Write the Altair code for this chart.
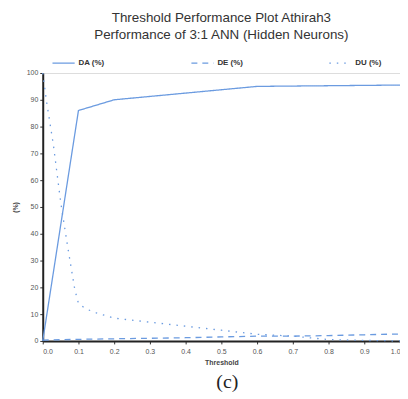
import altair as alt
import pandas as pd

# ---- data ----
da_x = [0.0, 0.1, 0.2, 0.6, 1.0]
da_y = [0.0, 86.0, 90.0, 95.0, 95.5]

de_x = [0.0, 0.1, 0.2, 0.3, 0.4, 0.5, 0.6, 0.7, 0.8, 0.9, 1.0]
de_y = [0.3, 0.6, 0.8, 1.0, 1.2, 1.5, 1.8, 1.8, 2.0, 2.3, 2.6]

du_x = [0.0, 0.01, 0.03, 0.05, 0.07, 0.09, 0.1, 0.12, 0.15, 0.2, 0.3, 0.4, 0.5, 0.6, 0.7, 0.8, 0.9, 1.0]
du_y = [100, 90, 73, 52, 35, 19, 14, 12, 10.5, 8.5, 7, 5.5, 4, 2.5, 1.8, 0.5, 0.2, 0.0]

series_names = ["DA (%)", "DE (%)", "DU (%)"]
x_ticks = [0.0, 0.1, 0.2, 0.3, 0.4, 0.5, 0.6, 0.7, 0.8, 0.9, 1.0]
y_ticks = [0, 10, 20, 30, 40, 50, 60, 70, 80, 90, 100]

rows = []
for name, xs, ys in zip(series_names, [da_x, de_x, du_x], [da_y, de_y, du_y]):
    for i, (a, b) in enumerate(zip(xs, ys)):
        rows.append({"Threshold": a, "value": b, "series": name, "order": i})
df = pd.DataFrame(rows)

W, H = 360, 270
blue = "#6b9be0"
font = "Liberation Sans"

lines = alt.Chart(df).mark_line(strokeWidth=1.3).encode(
    x=alt.X("Threshold:Q", scale=alt.Scale(domain=[0, 1], nice=False),
            axis=alt.Axis(values=x_ticks, format=".1f", title="Threshold",
                          labelFontSize=7, labelColor="#555", titleFontSize=7,
                          titleFontWeight="bold", titleColor="#444", titlePadding=4,
                          domainColor="#222", domainWidth=2, tickColor="#333",
                          tickSize=3, labelPadding=4, grid=False)),
    y=alt.Y("value:Q", scale=alt.Scale(domain=[0, 100], nice=False),
            axis=alt.Axis(values=y_ticks, title="(%)", labelFontSize=7,
                          labelColor="#555", titleFontSize=7, titleFontWeight="bold",
                          titleColor="#444", titlePadding=8, domainColor="#222",
                          domainWidth=2, tickColor="#333", tickSize=3, grid=False)),
    color=alt.Color("series:N", scale=alt.Scale(domain=series_names, range=[blue, blue, blue]),
                    legend=alt.Legend(title=None, orient="none", legendX=9, legendY=-22,
                                      direction="horizontal", symbolType="stroke",
                                      symbolSize=500, symbolStrokeWidth=1.2,
                                      labelFontSize=8, labelFontWeight="bold",
                                      labelColor="#333", columnPadding=84,
                                      labelOffset=3)),
    strokeDash=alt.StrokeDash("series:N", scale=alt.Scale(domain=series_names,
                              range=[[1, 0], [6, 5], [1.5, 6]]), legend=None),
    order="order:Q",
)

c_label = alt.Chart(pd.DataFrame({"t": ["(c)"]})).mark_text(
    font="Liberation Serif", fontSize=20, color="#222", baseline="middle"
).encode(text="t:N", x=alt.value(186), y=alt.value(H + 41))

chart = alt.layer(lines, c_label).properties(
    width=W, height=H,
    title=alt.TitleParams(
        ["Threshold Performance Plot Athirah3", "Performance of 3:1 ANN (Hidden Neurons)"],
        font=font, fontSize=13.5, fontWeight="normal", color="#333", anchor="middle",
        lineHeight=17, offset=10, frame="group"),
    autosize=alt.AutoSizeParams(type="none"),
    padding={"left": 35, "top": 64, "right": 0, "bottom": 56},
).configure_view(stroke="#222", strokeWidth=1.5).configure(font=font)

chart.save("out.html", embed_options={"renderer": "svg", "actions": False})
